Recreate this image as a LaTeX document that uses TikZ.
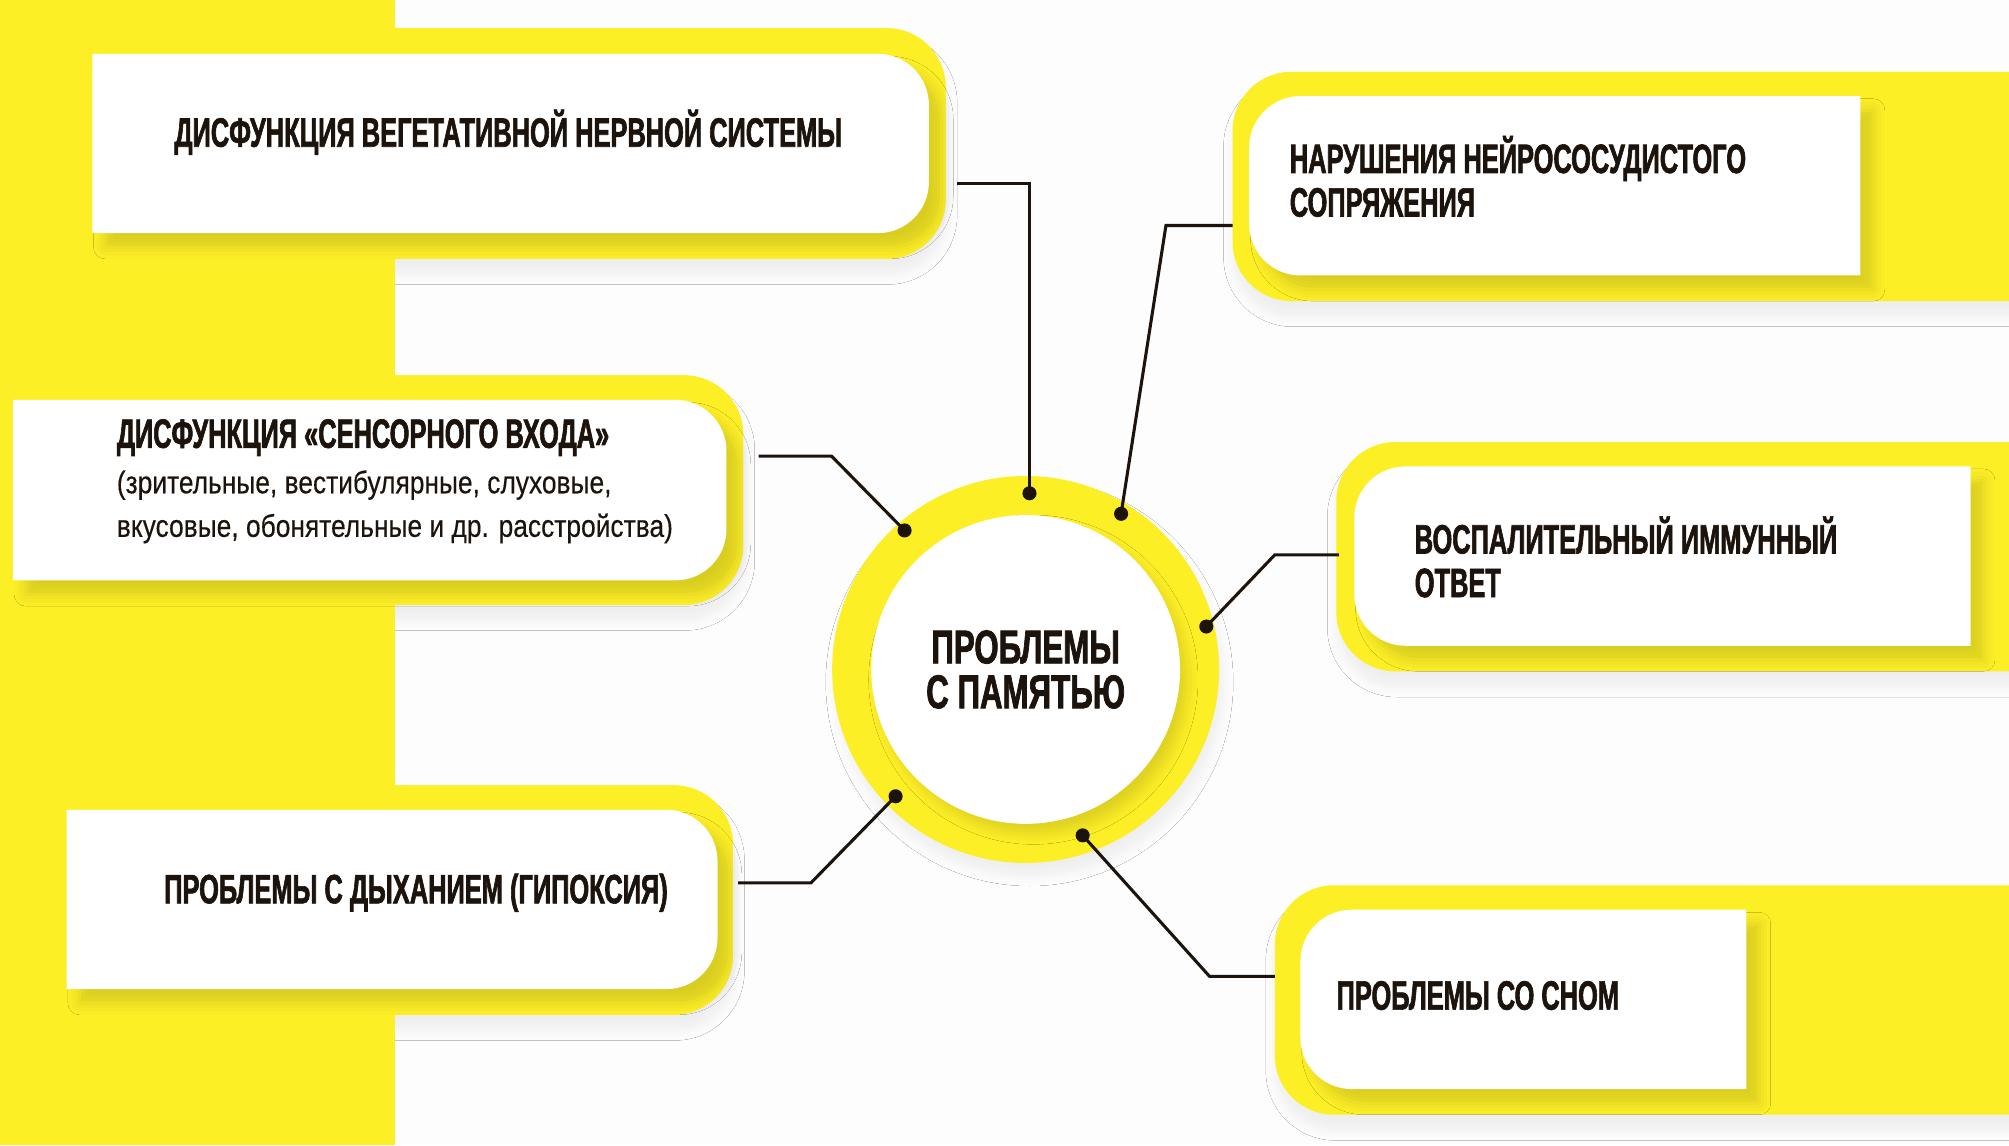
\documentclass[tikz,border=0pt]{standalone}
\usepackage{fontspec}
\newfontfamily\hfont{Liberation Sans}[FakeStretch=0.62,FakeBold=1.5]
\newfontfamily\cfont{Liberation Sans}[FakeStretch=0.66,FakeBold=1.5]
\newfontfamily\rfont{Liberation Sans}[FakeStretch=0.84,FakeBold=0.3]
\usetikzlibrary{shadows.blur}
\definecolor{yel}{RGB}{253,239,38}
\definecolor{ink}{RGB}{28,20,12}
\definecolor{bg}{RGB}{253,253,253}
\newcommand\rightround[3]{\fill[#2] (#1.north west) [rounded corners=#3] -- (#1.north east) -- (#1.south east) [sharp corners] -- (#1.south west) -- cycle;}
\newcommand\leftround[3]{\fill[#2] (#1.north east) [rounded corners=#3] -- (#1.north west) -- (#1.south west) [sharp corners] -- (#1.south east) -- cycle;}
\tikzset{
  frame/.style n args={2}{rectangle, inner sep=0pt, outer sep=0pt, minimum width=#1, minimum height=#2},
  backfill/.style={fill=yel, blur shadow={shadow xshift=1pt, shadow yshift=-12pt, shadow blur radius=8pt, shadow opacity=6}},
  backplain/.style={fill=yel},
  panelfill/.style={fill=white, blur shadow={shadow xshift=10pt, shadow yshift=-11pt, shadow blur radius=9pt, shadow opacity=14}},
  head/.style={anchor=base west, inner sep=0pt, text=ink, font=\hfont\bfseries\fontsize{32}{34}\selectfont},
  plain/.style={anchor=base west, inner sep=0pt, text=ink, font=\rfont\fontsize{24.5}{26}\selectfont},
  conn/.style={draw=ink, line width=2.4pt, line join=miter},
  dot/.style={circle, fill=ink, inner sep=0pt, minimum size=11pt}
}
\begin{document}
\begin{tikzpicture}[x=1pt, y=-1pt]
\useasboundingbox (0,0) rectangle (1568,894);
\fill[bg] (0,0) rectangle (1568,894);

% yellow backings (shadows first, then the band, then the plain fills)
\node[frame={760pt}{180pt}] (y1) at (358,112) {};
\node[frame={660pt}{179pt}] (y2) at (1292,145.5) {};
\node[frame={660pt}{179pt}] (y3) at (250,382.5) {};
\node[frame={580pt}{179pt}] (y4) at (1333,434.5) {};
\node[frame={652pt}{179pt}] (y5) at (246,702.5) {};
\node[frame={628pt}{179pt}] (y6) at (1309,780.5) {};
\rightround{y1}{backfill}{46pt}
\leftround{y2}{backfill}{46pt}
\rightround{y3}{backfill}{46pt}
\leftround{y4}{backfill}{46pt}
\rightround{y5}{backfill}{46pt}
\leftround{y6}{backfill}{46pt}
\fill[yel] (0,0) rectangle (308,894);
\rightround{y1}{backplain}{46pt}
\rightround{y3}{backplain}{46pt}
\rightround{y5}{backplain}{46pt}

% white panels
\node[frame={653pt}{140pt}] (b1) at (398.5,112) {};
\node[frame={477pt}{140pt}] (b2) at (1213.5,145) {};
\node[frame={557pt}{141pt}] (b3) at (288.5,382.5) {};
\node[frame={481pt}{140pt}] (b4) at (1297.5,434) {};
\node[frame={508pt}{140pt}] (b5) at (306,702) {};
\node[frame={348pt}{140pt}] (b6) at (1189,780) {};
\rightround{b1}{panelfill}{40pt}
\leftround{b2}{panelfill}{40pt}
\rightround{b3}{panelfill}{40pt}
\leftround{b4}{panelfill}{40pt}
\rightround{b5}{panelfill}{40pt}
\leftround{b6}{panelfill}{40pt}

% centre
\node[circle, fill=yel, minimum size=302pt, inner sep=0pt, blur shadow={shadow xshift=3pt, shadow yshift=-10pt, shadow blur radius=8pt, shadow opacity=6}] (mem) at (800.5,522.5) {};
\node[circle, fill=white, minimum size=241pt, inner sep=0pt, align=center, text=ink,
      font=\cfont\bfseries\fontsize{37}{35}\selectfont,
      blur shadow={shadow xshift=6pt, shadow yshift=-8pt, shadow blur radius=8pt, shadow opacity=12}] (memin) at (mem.center) {ПРОБЛЕМЫ\\С ПАМЯТЬЮ};

% connectors
\coordinate (s1) at (747,143);
\coordinate (s2) at (962,176);
\coordinate (s3) at (592,356);
\coordinate (s4) at (1045,433);
\coordinate (s5) at (576,689);
\coordinate (s6) at (995,762);
\node[dot] (d1) at (803.5,385) {};
\node[dot] (d2) at (875,401) {};
\node[dot] (d3) at (706,414) {};
\node[dot] (d4) at (941.5,489) {};
\node[dot] (d5) at (699,621.5) {};
\node[dot] (d6) at (845,652) {};
\draw[conn] (s1) -| (d1.center);
\draw[conn] (s2) -- (910,176) -- (d2.center);
\draw[conn] (s3) -- (649,356) -- (d3.center);
\draw[conn] (s4) -- (995,433) -- (d4.center);
\draw[conn] (s5) -- (633,689) -- (d5.center);
\draw[conn] (s6) -- (944,762) -- (d6.center);

% texts
\node[head] (t1) at (136,114.5) {ДИСФУНКЦИЯ ВЕГЕТАТИВНОЙ НЕРВНОЙ СИСТЕМЫ};
\node[head] (t2a) at (1006.5,135) {НАРУШЕНИЯ НЕЙРОСОСУДИСТОГО};
\node[head] (t2b) at (1006.5,169) {СОПРЯЖЕНИЯ};
\node[head] (t3a) at (91,349.5) {ДИСФУНКЦИЯ «СЕНСОРНОГО ВХОДА»};
\node[plain] (t3b) at (91,385) {(зрительные, вестибулярные, слуховые,};
\node[plain] (t3c) at (91,419) {вкусовые, обонятельные и др. расстройства)};
\node[head] (t4a) at (1104,432) {ВОСПАЛИТЕЛЬНЫЙ ИММУННЫЙ};
\node[head] (t4b) at (1104,466) {ОТВЕТ};
\node[head] (t5) at (128,705) {ПРОБЛЕМЫ С ДЫХАНИЕМ (ГИПОКСИЯ)};
\node[head] (t6) at (1043,788) {ПРОБЛЕМЫ СО СНОМ};
\end{tikzpicture}
\end{document}
